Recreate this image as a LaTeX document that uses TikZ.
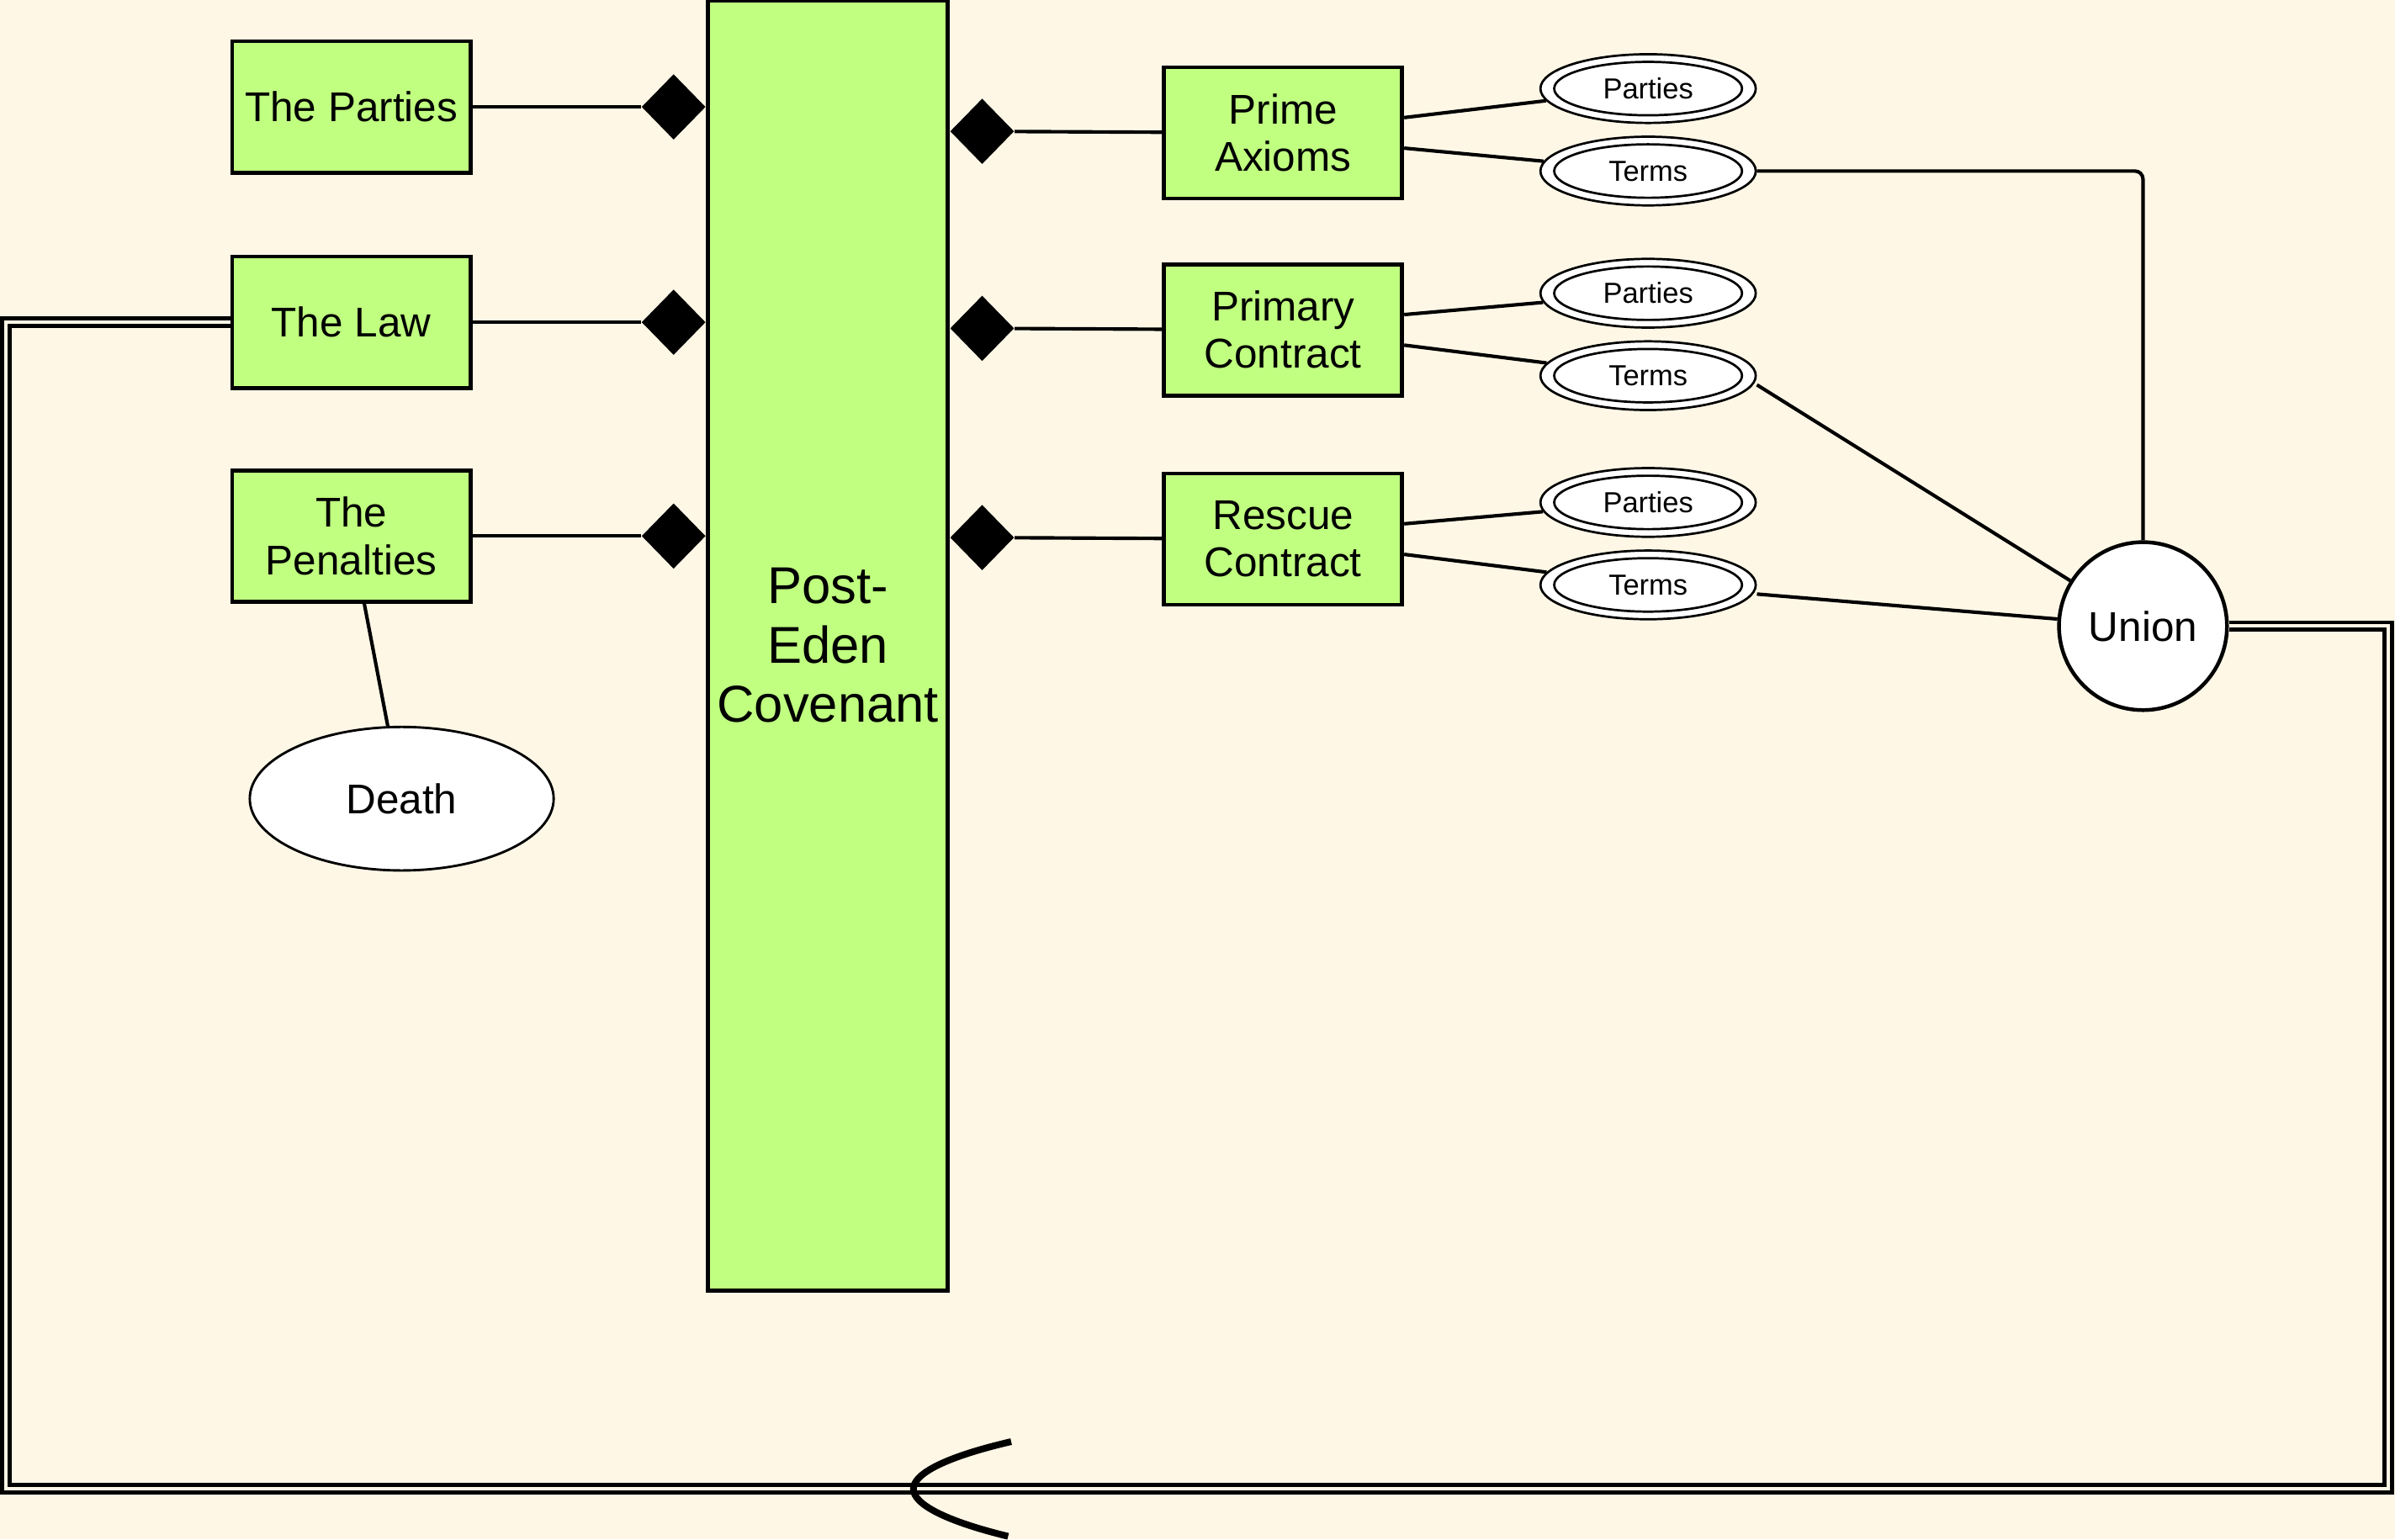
\documentclass[tikz,border=0pt]{standalone}
\usepackage{fontspec}
\setmainfont{Liberation Sans}
\usetikzlibrary{shapes.geometric}
\definecolor{paper}{RGB}{255,247,230}
\definecolor{boxgreen}{RGB}{192,255,128}

\begin{document}
\begin{tikzpicture}[
    x=0.02cm, y=-0.02cm,
    box/.style={
        draw,
        line width=1.5pt,
        fill=boxgreen,
        minimum width=3.12cm,
        minimum height=1.72cm,
        align=center,
        font=\fontsize{15.5}{17.6}\selectfont
    },
    knob/.style={
        diamond,
        fill=black,
        inner sep=0pt,
        minimum width=0.84cm,
        minimum height=0.86cm
    },
    attr/.style={
        ellipse,
        draw,
        line width=0.85pt,
        fill=white,
        inner sep=0pt,
        minimum width=2.82cm,
        minimum height=0.9cm,
        font=\fontsize{10.8}{13}\selectfont,
        path picture={\draw[line width=0.85pt] (path picture bounding box.center) ellipse [x radius=1.23cm, y radius=0.35cm];}
    },
    link/.style={line width=1.3pt},
    dbl/.style={double=paper, double distance=1.25pt, line width=1.55pt}
]

\fill[paper] (0,0) rectangle (1568,1008);
\useasboundingbox (0,0) rectangle (1568,1008);

% Left column
\node[box] (parties) at (230,70) {The Parties};
\node[box] (law) at (230,211) {The Law};
\node[box] (pen) at (230,351) {The\\Penalties};
\node[ellipse, draw, line width=0.9pt, fill=white, minimum width=3.98cm, minimum height=1.88cm,
      font=\fontsize{15.5}{17.6}\selectfont] (death) at (263,523) {Death};

% Covenant
\node[box, minimum height=16.9cm, font=\fontsize{19.3}{22}\selectfont] (cov) at (542,422.5) {Post-\\Eden\\Covenant};

% Diamonds
\node[knob] (kp) at (441,70) {};
\node[knob] (kl) at (441,211) {};
\node[knob] (kn) at (441,351) {};
\node[knob] (ka) at (643,86) {};
\node[knob] (kc) at (643,215) {};
\node[knob] (kr) at (643,352) {};

% Right column
\node[box] (axioms) at (840,87) {Prime\\Axioms};
\node[box] (primary) at (840,216) {Primary\\Contract};
\node[box] (rescue) at (840,353) {Rescue\\Contract};

% Attributes
\node[attr] (ap1) at (1079,58) {Parties};
\node[attr] (at1) at (1079,112) {Terms};
\node[attr] (ap2) at (1079,192) {Parties};
\node[attr] (at2) at (1079,246) {Terms};
\node[attr] (ap3) at (1079,329) {Parties};
\node[attr] (at3) at (1079,383) {Terms};

\node[circle, draw, line width=1.4pt, fill=white, minimum size=2.2cm,
      font=\fontsize{15.5}{17.6}\selectfont] (union) at (1403,410) {Union};

% Connectors
\draw[link] (parties) -- (kp);
\draw[link] (law) -- (kl);
\draw[link] (pen) -- (kn);
\draw[link] (pen) -- (death);

\draw[link] (ka) -- (axioms);
\draw[link] (kc) -- (primary);
\draw[link] (kr) -- (rescue);

\draw[link] ([yshift=0.2cm]axioms.east) -- (ap1);
\draw[link] ([yshift=-0.2cm]axioms.east) -- (at1);
\draw[link] ([yshift=0.2cm]primary.east) -- (ap2);
\draw[link] ([yshift=-0.2cm]primary.east) -- (at2);
\draw[link] ([yshift=0.2cm]rescue.east) -- (ap3);
\draw[link] ([yshift=-0.2cm]rescue.east) -- (at3);

\draw[link, rounded corners=3pt] (at1.east) -| (union);
\draw[link] ([yshift=-0.12cm]at2.east) -- (union);
\draw[link] ([yshift=-0.12cm]at3.east) -- (union);

% Loop back to the law
\coordinate (sw) at (4,975);
\coordinate (se) at (1563.5,975);
\draw[dbl] (law.west) -| (sw) -- (se) |- (union.east);
\draw[line width=2.5pt] (662,944) .. controls (619,954) and (598,965) .. (598,975)
    .. controls (598,985) and (619,996) .. (660,1006);

\end{tikzpicture}
\end{document}
